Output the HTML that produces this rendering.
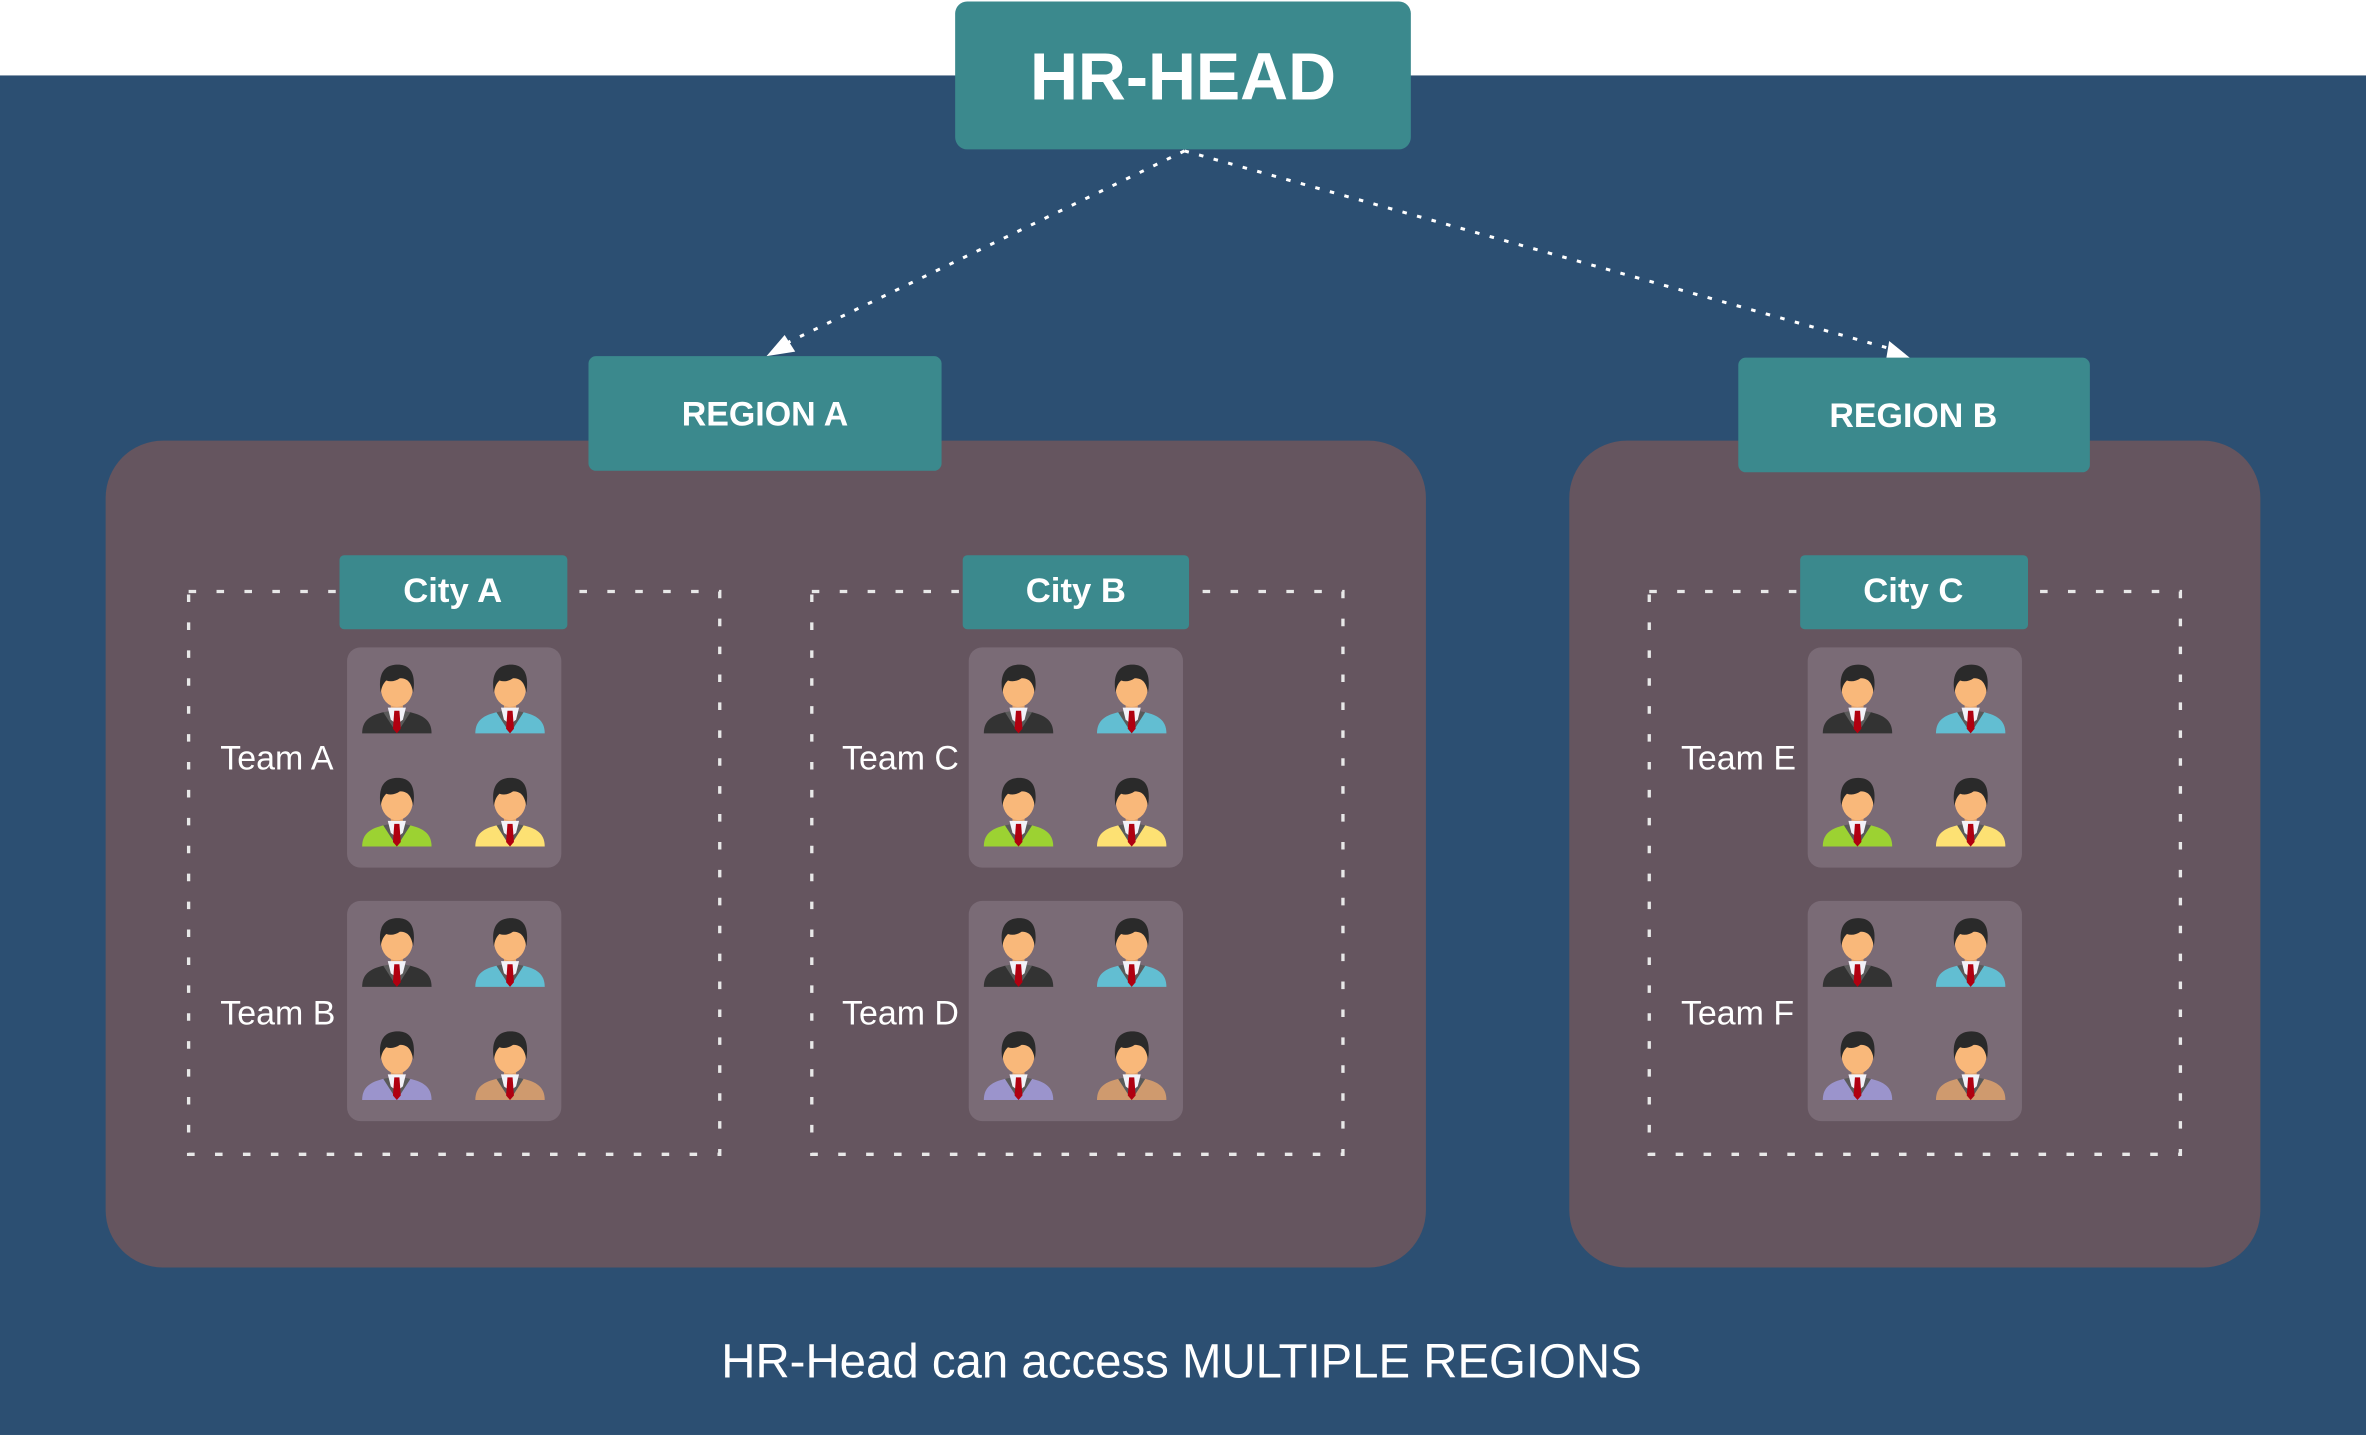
<!DOCTYPE html>
<html><head><meta charset="utf-8"><style>
html,body{margin:0;padding:0;background:#fff;}
svg{display:block;}
text{font-family:"Liberation Sans",Arial,sans-serif;fill:#fff;}
</style></head><body>
<svg width="2366" height="1438" viewBox="0 0 1568 953" preserveAspectRatio="none" xmlns="http://www.w3.org/2000/svg">
<defs>
<symbol id="p" viewBox="0 0 46 48" overflow="visible">
<path d="M0 47 C0 38 6 35 14 33 L32 33 C40 35 46 38 46 47 Z"/>
<path d="M14 33 L23 47 L19 32Z M32 33 L23 47 L27 32Z" fill="#5a5a5a"/>
<rect x="19" y="23" width="8" height="9" fill="#e0a06a"/>
<path d="M17 30 L29 30 L27 38 L23 41 L19 38Z" fill="#f2f2f8"/>
<path d="M21.3 32 L24.7 32 L25.6 44 L23 47 L20.4 44Z" fill="#b00010"/>
<ellipse cx="23" cy="17.5" rx="10.5" ry="12" fill="#f9b87a"/>
<path d="M12.3 20 C10 6 16 1.5 23.5 1.5 C31 1.5 36 6 33.8 20 C32.5 13 30 10.5 25 10.5 C22 12.5 19 13 16 12 C14 14 13 16 12.3 20Z" fill="#2a2a2a"/>
</symbol>
<g id="t1">
<rect x="0" y="0" width="142" height="146" rx="9" fill="#7a6b76"/>
<use href="#p" x="10" y="10" width="46" height="48" fill="#333333"/>
<use href="#p" x="85" y="10" width="46" height="48" fill="#62bed2"/>
<use href="#p" x="10" y="85" width="46" height="48" fill="#9cd232"/>
<use href="#p" x="85" y="85" width="46" height="48" fill="#fde173"/>
</g>
<g id="t2">
<rect x="0" y="0" width="142" height="146" rx="9" fill="#7a6b76"/>
<use href="#p" x="10" y="10" width="46" height="48" fill="#333333"/>
<use href="#p" x="85" y="10" width="46" height="48" fill="#62bed2"/>
<use href="#p" x="10" y="85" width="46" height="48" fill="#9b94cc"/>
<use href="#p" x="85" y="85" width="46" height="48" fill="#cf9a6e"/>
</g>
</defs>
<rect x="0" y="0" width="1568" height="953" fill="#fff"/>
<rect x="0" y="50" width="1568" height="901" fill="#2c4f72"/>

<rect x="70" y="292" width="875" height="548" rx="38" fill="#65555f"/>
<rect x="1040" y="292" width="458" height="548" rx="38" fill="#65555f"/>

<g stroke="#fff" stroke-width="2" stroke-dasharray="3 7" fill="none">
<line x1="785" y1="100" x2="520" y2="228"/>
<line x1="785" y1="100" x2="1256" y2="232"/>
</g>
<polygon points="508,236 527,233 520,222" fill="#fff"/>
<polygon points="1268,239 1252,226 1250,238" fill="#fff"/>

<rect x="633" y="1" width="302" height="98" rx="8" fill="#3b898d"/>
<text x="784" y="66" font-size="44" font-weight="bold" text-anchor="middle">HR-HEAD</text>

<rect x="390" y="236" width="234" height="76" rx="5" fill="#3b898d"/>
<text x="507" y="282" font-size="22.5" font-weight="bold" text-anchor="middle">REGION A</text>
<rect x="1152" y="237" width="233" height="76" rx="5" fill="#3b898d"/>
<text x="1268" y="283" font-size="22.5" font-weight="bold" text-anchor="middle">REGION B</text>

<g stroke="#e8e8e8" stroke-width="2.2" stroke-dasharray="5 13.5" fill="none">
<rect x="125" y="392" width="352" height="373"/>
<rect x="538" y="392" width="352" height="373"/>
<rect x="1093" y="392" width="352" height="373"/>
</g>

<rect x="225" y="368" width="151" height="49" rx="3" fill="#3b898d"/>
<text x="300" y="399" font-size="23" font-weight="bold" text-anchor="middle">City A</text>
<rect x="638" y="368" width="150" height="49" rx="3" fill="#3b898d"/>
<text x="713" y="399" font-size="23" font-weight="bold" text-anchor="middle">City B</text>
<rect x="1193" y="368" width="151" height="49" rx="3" fill="#3b898d"/>
<text x="1268" y="399" font-size="23" font-weight="bold" text-anchor="middle">City C</text>

<use href="#t1" x="230" y="429"/>
<use href="#t2" x="230" y="597"/>
<use href="#t1" x="642" y="429"/>
<use href="#t2" x="642" y="597"/>
<use href="#t1" x="1198" y="429"/>
<use href="#t2" x="1198" y="597"/>

<g font-size="22.5">
<text x="146" y="510">Team A</text>
<text x="146" y="679">Team B</text>
<text x="558" y="510">Team C</text>
<text x="558" y="679">Team D</text>
<text x="1114" y="510">Team E</text>
<text x="1114" y="679">Team F</text>
</g>

<text x="478" y="913" font-size="32" textLength="610" lengthAdjust="spacingAndGlyphs">HR-Head can access MULTIPLE REGIONS</text>
</svg>
</body></html>
